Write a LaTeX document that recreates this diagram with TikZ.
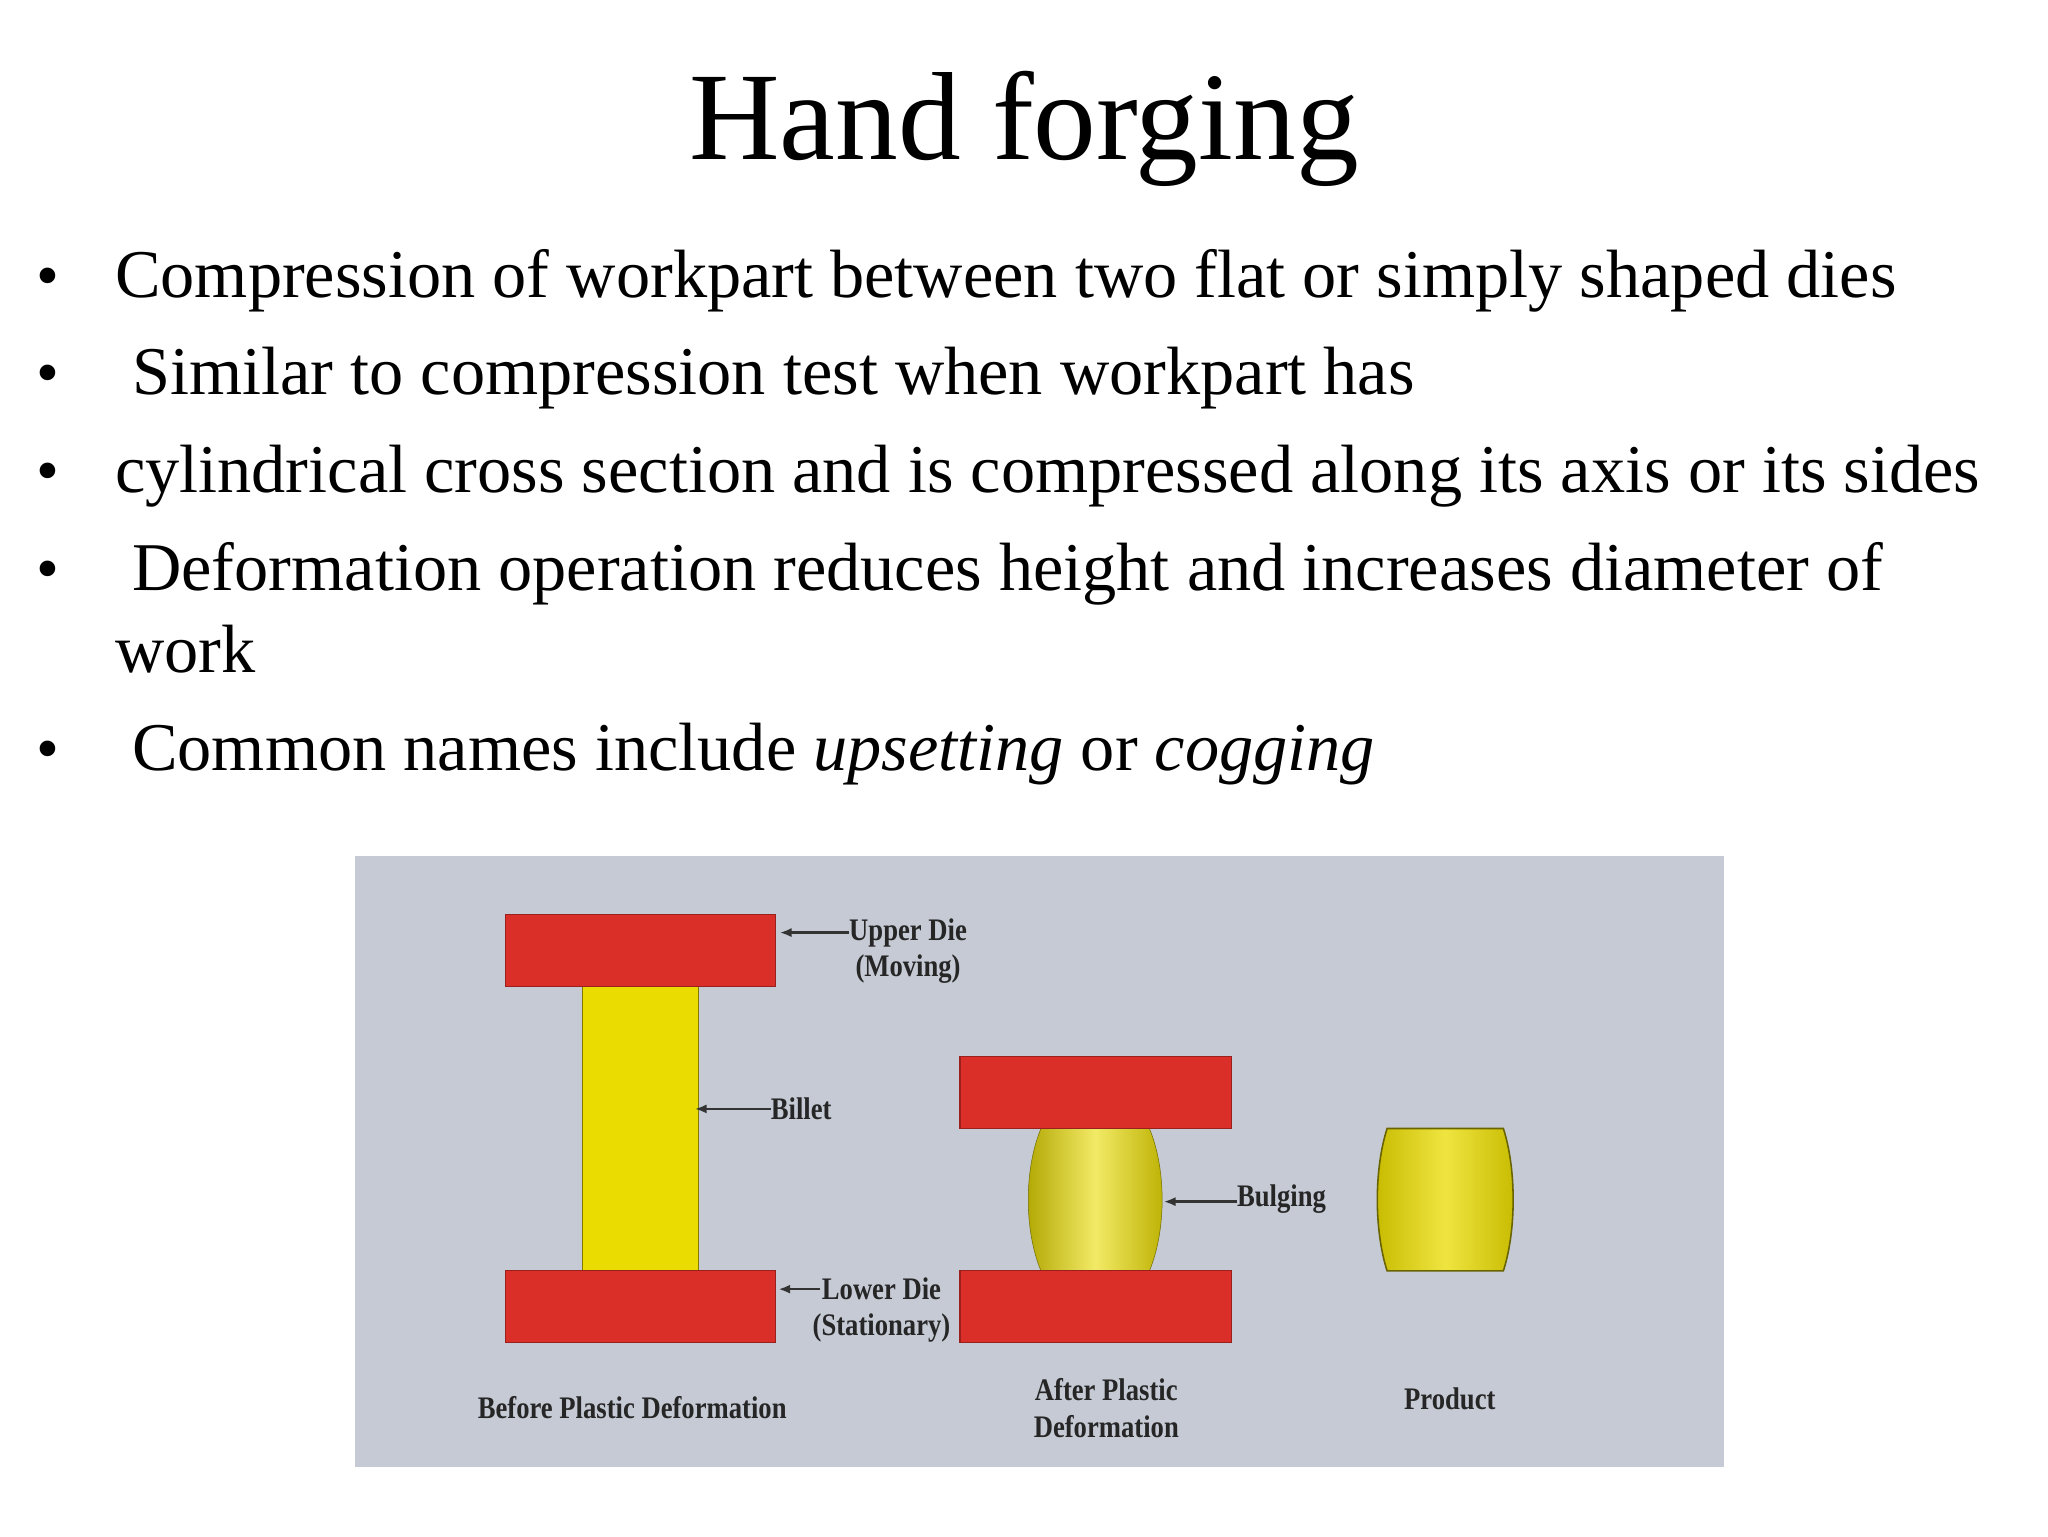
\documentclass[tikz,border=0pt]{standalone}
\usepackage{fontspec}
\setmainfont{Liberation Serif}
\usetikzlibrary{arrows.meta}
\begin{document}
\begin{tikzpicture}[x=1pt,y=-1pt,
  txt/.style={anchor=base west,inner sep=0pt,font=\fontsize{52.3}{60}\selectfont},
  bul/.style={anchor=base west,inner sep=0pt,font=\fontsize{50}{60}\selectfont},
  lab/.style={inner sep=0pt,font=\fontsize{24}{28}\selectfont\bfseries,text=black!85,xscale=0.85,align=center},
  die/.style={fill=dieRed,draw=dieRed!70!black,line width=0.8pt},
  bil/.style={fill=billY,draw=billY!55!black,line width=1pt},
  arr/.style={-{Latex[length=9pt,width=7pt]},line width=1.8pt,black!80}]
\definecolor{dieRed}{RGB}{218,46,40}
\definecolor{billY}{RGB}{234,220,0}
\definecolor{panel}{RGB}{197,202,212}
\useasboundingbox (0,0) rectangle (1568,1176);
\fill[white] (0,0) rectangle (1568,1176);
\node[anchor=base,inner sep=0pt,font=\fontsize{96}{110}\selectfont] (title) at (784,122) {Hand forging};
\foreach \y/\n in {228/a,302/b,377/c,452/d,590/e}{\node[bul] (b\n) at (28,\y) {\textbullet};}
\node[txt] (l1) at (88,228) {Compression of workpart between two flat or simply shaped dies};
\node[txt] (l2) at (88,302) {\ Similar to compression test when workpart has};
\node[txt] (l3) at (88,377) {cylindrical cross section and is compressed along its axis or its sides};
\node[txt] (l4) at (88,452) {\ Deformation operation reduces height and increases diameter of};
\node[txt] (l4b) at (88,515) {work};
\node[txt] (l5) at (88,590) {\ Common names include \textit{upsetting} or \textit{cogging}};
\fill[panel] (272,655) rectangle (1320,1123);
% before
\draw[bil] (446,755) rectangle (535,973);
\draw[die] (387,700) rectangle (594,755);
\draw[die] (387,973) rectangle (594,1028);
% after
\shade[left color=billY!75!black,right color=billY!80!black,middle color=billY!60!white,draw=billY!50!black]
 (797,864) .. controls (784,895) and (784,942) .. (797,973) -- (880,973) .. controls (893,942) and (893,895) .. (880,864) -- cycle;
\draw[die] (735,809) rectangle (943,864);
\draw[die] (735,973) rectangle (943,1028);
% product
\shade[left color=billY!85!black,right color=billY!85!black,middle color=billY!75!white,draw=billY!45!black,line width=1.2pt]
 (1062,864) .. controls (1052,895) and (1052,942) .. (1062,973) -- (1151,973) .. controls (1161,942) and (1161,895) .. (1151,864) -- cycle;
% labels
\node[lab,anchor=west] (ud) at (650,728) {Upper Die\\(Moving)};
\node[lab,anchor=west] (bl) at (590,849) {Billet};
\node[lab,anchor=west] (ld) at (622,1003) {Lower Die\\(Stationary)};
\node[lab,anchor=west] (bg) at (947,918) {Bulging};
\coordinate (udT) at (597,714);\coordinate (blT) at (532,849);
\coordinate (ldT) at (596,987);\coordinate (bgT) at (891,920);
\coordinate (ldS) at (628,987);
\draw[arr] (ud.west|-udT) -- (udT);
\draw[arr] (bl.west) -- (blT);
\draw[arr] (ldS) -- (ldT);
\draw[arr] (bg.west|-bgT) -- (bgT);
\node[lab] (c1) at (484,1078) {Before Plastic Deformation};
\node[lab] (c2) at (847,1078) {After Plastic\\Deformation};
\node[lab] (c3) at (1110,1071) {Product};
\end{tikzpicture}
\end{document}
